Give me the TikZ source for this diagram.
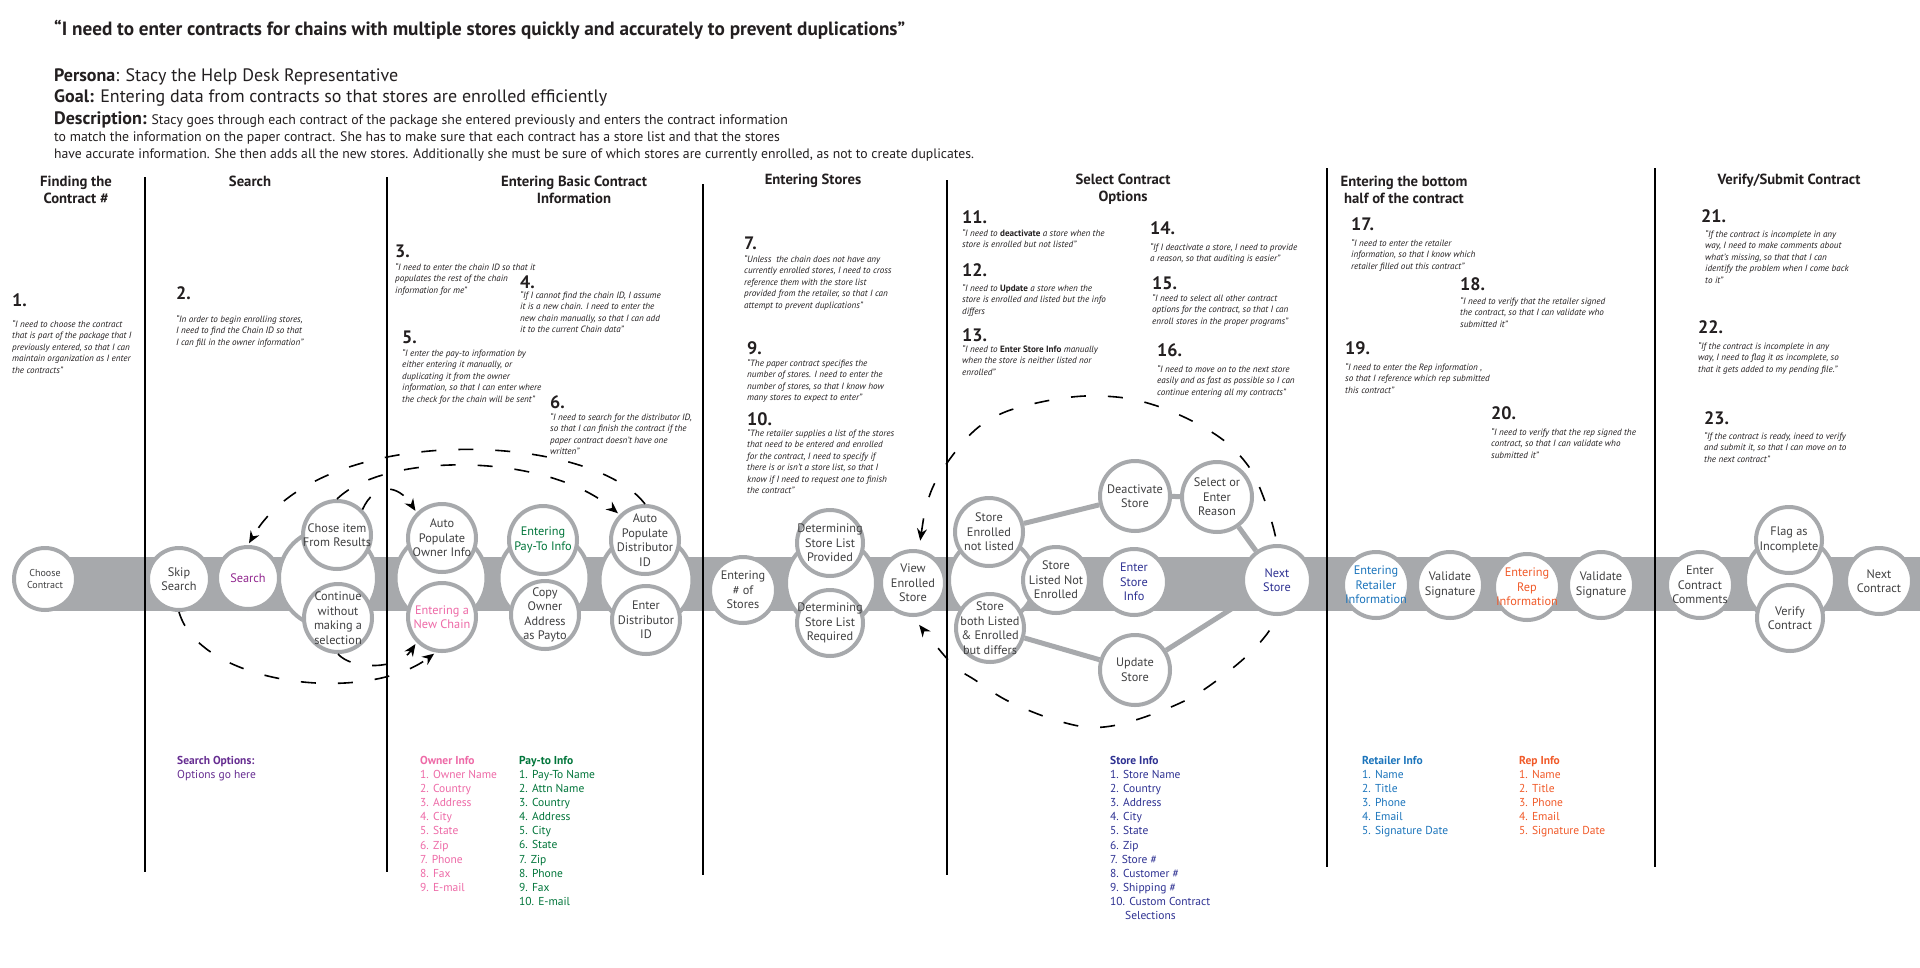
\documentclass[tikz,border=0pt]{standalone}
\usepackage{fontspec}
\setmainfont{PT Sans}
\usetikzlibrary{arrows.meta}
\definecolor{cgray}{HTML}{A7A9AC}
\definecolor{ctext}{HTML}{404041}
\definecolor{qtext}{HTML}{231F20}
\definecolor{cpurple}{HTML}{92278F}
\definecolor{lpurple}{HTML}{662D91}
\definecolor{cpink}{HTML}{EE6AA7}
\definecolor{cgreen}{HTML}{00753A}
\definecolor{cnavy}{HTML}{2E3192}
\definecolor{cblue}{HTML}{1C75BC}
\definecolor{corange}{HTML}{F15A29}
\pgfdeclarelayer{back}
\pgfsetlayers{back,main}
\tikzset{
 circ/.style={circle, draw=cgray, line width=4pt, fill=white, inner sep=0pt, minimum size=68pt},
 ctxt/.style={align=center, inner sep=0pt, font=\fontsize{12.3}{14.5}\selectfont, text=ctext},
 bigc/.style={circle, draw=cgray, line width=4pt, fill=white, inner sep=0pt},
 conn/.style={draw=cgray, line width=5pt},
 dsh/.style={black, line width=1.6pt, dash pattern=on 15pt off 22pt},
 arr/.style={-{Stealth[length=12pt,width=10pt]}, shorten >=2pt},
 qt/.style={anchor=north west, inner sep=0pt, align=left, font=\fontsize{9.1}{11.5}\selectfont\itshape, text=qtext},
 num/.style={anchor=west, inner sep=0pt, font=\fontsize{18}{18}\selectfont\bfseries, text=qtext},
 hdr/.style={align=center, inner sep=0pt, font=\fontsize{14.7}{17}\selectfont\bfseries, text=qtext},
 lst/.style={anchor=north west, inner sep=0pt, align=left, font=\fontsize{11.5}{14.1}\selectfont},
 toptxt/.style={anchor=west, inner sep=0pt, text=qtext},
 divl/.style={black, line width=1.6pt},
}
\newcommand\Cir[5][68]{\node[circ,minimum size=#1pt] (#2) at (#3) {};\node[ctxt,#4] (#2-t) at (#2.center) {#5};}
\begin{document}
\begin{tikzpicture}[x=1pt,y=-1pt]
\useasboundingbox (0,0) rectangle (1920,967);

% ---------- header ----------
\node[toptxt, font=\fontsize{19.2}{21}\selectfont\bfseries] (title) at (54,30) {“I need to enter contracts for chains with multiple stores quickly and accurately to prevent duplications”};
\node[toptxt, font=\fontsize{18}{20}\selectfont] (persona) at (54,77) {\textbf{Persona}: Stacy the Help Desk Representative};
\node[toptxt, font=\fontsize{18}{20}\selectfont] (goal) at (54,98) {\textbf{Goal:} Entering data from contracts so that stores are enrolled efficiently};
\node[toptxt, font=\fontsize{13.8}{15}\selectfont] (desc1) at (54,120) {{\fontsize{18}{20}\selectfont\bfseries Description:} Stacy goes through each contract of the package she entered previously and enters the contract information};
\node[toptxt, font=\fontsize{13.8}{15}\selectfont] (desc2) at (54,138) {to match the information on the paper contract. She has to make sure that each contract has a store list and that the stores};
\node[toptxt, font=\fontsize{13.7}{15}\selectfont] (desc3) at (54,155) {have accurate information. She then adds all the new stores. Additionally she must be sure of which stores are currently enrolled, as not to create duplicates.};

% ---------- column headers ----------
\node[hdr] (h1) at (76,189.5) {Finding the\\Contract \#};
\node[hdr] (h2) at (250,181) {Search};
\node[hdr] (h3) at (574,189.5) {Entering Basic Contract\\Information};
\node[hdr] (h4) at (813,181) {Entering Stores};
\node[hdr] (h5) at (1123,189.5) {Select Contract\\Options};
\node[hdr] (h6) at (1404,189.5) {Entering the bottom\\half of the contract};
\node[hdr] (h7) at (1789,181) {Verify/Submit Contract};

% ---------- numbered quotes ----------
\node[num] (n1) at (12,300) {1.};
\node[qt] (q1) at (12,320) {“I need to choose the contract\\that is part of the package that I\\previously entered, so that I can\\maintain organization as I enter\\the contracts”};
\node[num] (n2) at (176,293) {2.};
\node[qt] (q2) at (176,315) {“In order to begin enrolling stores,\\I need to find the Chain ID so that\\I can fill in the owner information”};
\node[num] (n3) at (395,251) {3.};
\node[qt] (q3) at (395,263) {“I need to enter the chain ID so that it\\populates the rest of the chain\\information for me”};
\node[num] (n4) at (520,282) {4.};
\node[qt] (q4) at (520,291) {“If I cannot find the chain ID, I assume\\it is a new chain. I need to enter the\\new chain manually, so that I can add\\it to the current Chain data”};
\node[num] (n5) at (402,337) {5.};
\node[qt] (q5) at (402,349) {“I enter the pay-to information by\\either entering it manually, or\\duplicating it from the owner\\information, so that I can enter where\\the check for the chain will be sent”};
\node[num] (n6) at (550,402) {6.};
\node[qt] (q6) at (550,413) {“I need to search for the distributor ID,\\so that I can finish the contract if the\\paper contract doesn’t have one\\written”};
\node[num] (n7) at (744,243) {7.};
\node[qt] (q7) at (744,255) {“Unless~ the chain does not have any\\currently enrolled stores, I need to cross\\reference them with the store list\\provided from the retailer, so that I can\\attempt to prevent duplications”};
\node[num] (n9) at (747,348) {9.};
\node[qt] (q9) at (747,359) {“The paper contract specifies the\\number of stores. I need to enter the\\number of stores, so that I know how\\many stores to expect to enter”};
\node[num] (n10) at (747,419) {10.};
\node[qt] (q10) at (747,429) {“The retailer supplies a list of the stores\\that need to be entered and enrolled\\for the contract, I need to specify if\\there is or isn’t a store list, so that I\\know if I need to request one to finish\\the contract”};
\node[num] (n11) at (962,217) {11.};
\node[qt] (q11) at (962,229) {“I need to \textbf{\upshape deactivate} a store when the\\store is enrolled but not listed”};
\node[num] (n12) at (962,270) {12.};
\node[qt] (q12) at (962,284) {“I need to \textbf{\upshape Update} a store when the\\store is enrolled and listed but the info\\differs};
\node[num] (n13) at (962,335) {13.};
\node[qt] (q13) at (962,345) {“I need to \textbf{\upshape Enter Store Info} manually\\when the store is neither listed nor\\enrolled”};
\node[num] (n14) at (1150,228) {14.};
\node[qt] (q14) at (1150,243) {“If I deactivate a store, I need to provide\\a reason, so that auditing is easier”};
\node[num] (n15) at (1152,283) {15.};
\node[qt] (q15) at (1152,294) {“I need to select all other contract\\options for the contract, so that I can\\enroll stores in the proper programs”};
\node[num] (n16) at (1157,350) {16.};
\node[qt] (q16) at (1157,365) {“I need to move on to the next store\\easily and as fast as possible so I can\\continue entering all my contracts”};
\node[num] (n17) at (1351,224) {17.};
\node[qt] (q17) at (1351,239) {“I need to enter the retailer\\information, so that I know which\\retailer filled out this contract”};
\node[num] (n18) at (1460,284) {18.};
\node[qt] (q18) at (1460,297) {“I need to verify that the retailer signed\\the contract, so that I can validate who\\submitted it”};
\node[num] (n19) at (1345,348) {19.};
\node[qt] (q19) at (1345,363) {“I need to enter the Rep information ,\\so that I reference which rep submitted\\this contract”};
\node[num] (n20) at (1491,413) {20.};
\node[qt] (q20) at (1491,428) {“I need to verify that the rep signed the\\contract, so that I can validate who\\submitted it”};
\node[num] (n21) at (1701,216) {21.};
\node[qt] (q21) at (1705,230) {“If the contract is incomplete in any\\way, I need to make comments about\\what’s missing, so that that I can\\identify the problem when I come back\\to it”};
\node[num] (n22) at (1698,327) {22.};
\node[qt] (q22) at (1698,342) {“If the contract is incomplete in any\\way, I need to flag it as incomplete, so\\that it gets added to my pending file.”};
\node[num] (n23) at (1704,418) {23.};
\node[qt] (q23) at (1704,432) {“If the contract is ready, ineed to verify\\and submit it, so that I can move on to\\the next contract”};

% ---------- circles ----------
\Cir[62]{choose}{45,579}{font=\fontsize{10}{12}\selectfont}{Choose\\Contract}
\Cir[62]{skip}{179,579}{}{Skip\\Search}
\Cir[62]{search}{248,578}{text=cpurple}{Search}
\Cir{chose}{337,535}{}{Chose item\\From Results}
\Cir{cont}{338,618}{}{Continue\\without\\making a\\selection}
\Cir{owner1}{442,538}{}{Auto\\Populate\\Owner Info}
\Cir{newchain}{442,617}{text=cpink}{Entering a\\New Chain}
\Cir{payto}{543,540}{text=cgreen}{Entering\\Pay-To Info}
\Cir{copy}{545,615}{}{Copy\\Owner\\Address\\as Payto}
\Cir{dist1}{645,540}{}{Auto\\Populate\\Distributor\\ID}
\Cir{dist2}{646,620}{}{Enter\\Distributor\\ID}
\Cir[66]{nstores}{743,590}{}{Entering\\\# of\\Stores}
\Cir[66]{prov}{830,543}{}{Determining\\Store List\\Provided}
\Cir[66]{req}{830,623}{}{Determining\\Store List\\Required}
\Cir[64]{view}{913,583}{}{View\\Enrolled\\Store}
\Cir{senl}{989,532}{}{Store\\Enrolled\\not listed}
\Cir[66]{slne}{1056,580}{}{Store\\Listed Not\\Enrolled}
\Cir{sboth}{990,628}{}{Store\\both Listed\\\& Enrolled\\but differs}
\Cir[70]{deac}{1135,496}{}{Deactivate\\Store}
\Cir[70]{reason}{1217,497}{}{Select or\\Enter\\Reason}
\Cir[66]{esi}{1134,582}{text=cnavy}{Enter\\Store\\Info}
\Cir[70]{upd}{1135,670}{}{Update\\Store}
\Cir{next}{1277,580}{text=cnavy}{Next\\Store}
\Cir[66]{retail}{1376,585}{text=cblue}{Entering\\Retailer\\Information}
\Cir[66]{val1}{1450,585}{}{Validate\\Signature}
\Cir[66]{rep}{1527,587}{text=corange}{Entering\\Rep\\Information}
\Cir[66]{val2}{1601,585}{}{Validate\\Signature}
\Cir[66]{comm}{1700,585}{}{Enter\\Contract\\Comments}
\Cir[66]{flag}{1789,540}{}{Flag as\\Incomplete}
\Cir[66]{verify}{1790,618}{}{Verify\\Contract}
\Cir[66]{ncon}{1879,581}{}{Next\\Contract}

% ---------- background layer: band, group circles, connectors, loop ----------
\begin{pgfonlayer}{back}
\fill[white] (0,0) rectangle (1920,967);
\fill[cgray] (45,557) rectangle (1920,611);
\node[bigc, minimum size=98pt] (gsearch) at (328,578) {};
\node[bigc, minimum size=91pt] (gowner) at (441,578) {};
\node[bigc, minimum size=91pt] (gpay) at (544,578) {};
\node[bigc, minimum size=93pt] (gdist) at (646,580) {};
\node[bigc, minimum size=90pt] (glist) at (831,583) {};
\node[bigc, minimum size=86pt] (gstore) at (992,580) {};
\node[bigc, minimum size=90pt] (gflag) at (1790,580) {};
\draw[conn] (senl) -- (deac);
\draw[conn] (deac) -- (reason);
\draw[conn] (reason) -- (next);
\draw[conn] (sboth) -- (upd);
\draw[conn] (upd) -- (next);
\draw[dsh, {Stealth[length=12pt,width=10pt]}-{Stealth[length=12pt,width=10pt]}, shorten <=9pt, shorten >=10pt]
  plot[smooth, tension=0.55] coordinates {(view.80) (929,497) (947,463) (975,430) (1005,412) (1046,401) (1085,396) (1125,398) (1160,407) (1196,423) (1227,443) (1251,470) (1267,507) (1277,545) (1278,585) (1275,620) (1255,648) (1224,675) (1192,697) (1156,713) (1117,725) (1085,727) (1046,717) (1006,700) (975,680) (951,663) (view.south)};
\end{pgfonlayer}

% ---------- dashed arrows (search / basic info) ----------
\draw[dsh, arr] (dist1.north) .. controls (590,432) and (320,420) .. (search.north);
\draw[dsh, arr] (chose.north) .. controls (385,452) and (545,452) .. (dist1.north west);
\draw[dsh, arr] (chose.north east) .. controls (375,482) and (398,484) .. (owner1.north west);
\draw[dsh, arr] (skip.south) .. controls (200,685) and (365,705) .. (newchain.-100);
\draw[dsh, arr] (cont.south) .. controls (352,670) and (398,670) .. (newchain.-135);

% ---------- dividers ----------
\draw[divl] (145,177) -- (145,872);
\draw[divl] (387,177) -- (387,872);
\draw[divl] (703,184) -- (703,875);
\draw[divl] (947,180) -- (947,875);
\draw[divl] (1327,168) -- (1327,867);
\draw[divl] (1655,168) -- (1655,867);

% ---------- lists ----------
\node[lst, text=lpurple] (lsearch) at (177,756) {\textbf{Search Options:}\\Options go here};
\node[lst, text=cpink] (lowner) at (420,756) {\textbf{Owner Info}\\1. Owner Name\\2. Country\\3. Address\\4. City\\5. State\\6. Zip\\7. Phone\\8. Fax\\9. E-mail};
\node[lst, text=cgreen] (lpay) at (519,756) {\textbf{Pay-to Info}\\1. Pay-To Name\\2. Attn Name\\3. Country\\4. Address\\5. City\\6. State\\7. Zip\\8. Phone\\9. Fax\\10. E-mail};
\node[lst, text=cnavy] (lstore) at (1110,756) {\textbf{Store Info}\\1. Store Name\\2. Country\\3. Address\\4. City\\5. State\\6. Zip\\7. Store \#\\8. Customer \#\\9. Shipping \#\\10. Custom Contract\\\hspace*{15pt}Selections};
\node[lst, text=cblue] (lretail) at (1362,756) {\textbf{Retailer Info}\\1. Name\\2. Title\\3. Phone\\4. Email\\5. Signature Date};
\node[lst, text=corange] (lrep) at (1519,756) {\textbf{Rep Info}\\1. Name\\2. Title\\3. Phone\\4. Email\\5. Signature Date};
\end{tikzpicture}
\end{document}
